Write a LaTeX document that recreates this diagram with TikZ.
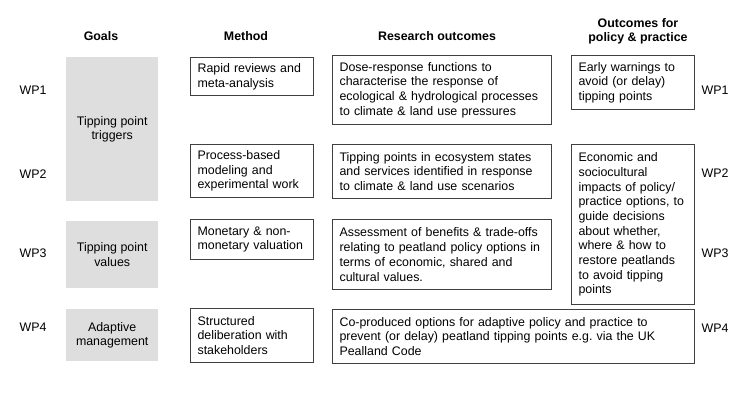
\documentclass[tikz,border=0pt]{standalone}
\usepackage{fontspec}
\setmainfont{Liberation Sans}
\usetikzlibrary{positioning}

\begin{document}
\begin{tikzpicture}[
    x=1pt, y=-1pt,
    font=\fontsize{12.4}{14.7}\selectfont,
    header/.style={font=\fontsize{12.4}{14}\selectfont\bfseries, align=center},
    goal/.style={fill=black!13, align=center, anchor=north west,
                 inner sep=0pt, minimum width=92pt},
    cell/.style={draw=black!75, line width=1.1pt, align=left, anchor=north west,
                 inner xsep=7pt, inner ysep=2pt},
    wplabel/.style={inner sep=1pt}
  ]
    \useasboundingbox (0,0) rectangle (752,415);
    % column headers
    \node[header] (hgoals) at (101,36) {Goals};
    \node[header] (hmethod) at (246,36) {Method};
    \node[header] (hresearch) at (437,36) {Research outcomes};
    \node[header] (hpolicy) at (638,31) {Outcomes for\\policy \& practice};
    % goals
    \node[goal, minimum height=144pt] (goal1) at (66,57) {Tipping point\\triggers};
    \node[goal, minimum height=67pt] (goal2) at (66,221) {Tipping point\\values};
    \node[goal, minimum height=52pt] (goal3) at (66,309) {Adaptive\\management};
    % methods
    \node[cell, text width=109pt, minimum height=38pt] (meth1) at (190,57)
      {Rapid reviews and\\meta-analysis};
    \node[cell, text width=109pt, minimum height=53pt] (meth2) at (190,144)
      {Process-based\\modeling and\\experimental work};
    \node[cell, text width=109pt, minimum height=40pt] (meth3) at (190,219)
      {Monetary \& non-\\monetary valuation};
    \node[cell, text width=109pt, minimum height=54pt] (meth4) at (190,308)
      {Structured\\deliberation with\\stakeholders};
    % research outcomes
    \node[cell, text width=205pt, minimum height=69pt] (res1) at (332,55)
      {Dose-response functions to\\characterise the response of\\
       ecological \& hydrological processes\\to climate \& land use pressures};
    \node[cell, text width=205pt, minimum height=54pt] (res2) at (332,144)
      {Tipping points in ecosystem states\\and services identified in response\\
       to climate \& land use scenarios};
    \node[cell, text width=205pt, minimum height=70pt] (res3) at (332,219)
      {Assessment of benefits \& trade-offs\\relating to peatland policy options in\\
       terms of economic, shared and\\cultural values.};
    \node[cell, text width=348pt, minimum height=54pt] (res4) at (332,309)
      {Co-produced options for adaptive policy and practice to\\
       prevent (or delay) peatland tipping points e.g.\ via the UK\\Pealland Code};
    % outcomes for policy
    \node[cell, text width=109pt, minimum height=54pt] (pol1) at (571,55)
      {Early warnings to\\avoid (or delay)\\tipping points};
    \node[cell, text width=109pt, minimum height=160pt] (pol2) at (571,144)
      {Economic and\\sociocultural\\impacts of policy/\\practice options, to\\
       guide decisions\\about whether,\\where \& how to\\restore peatlands\\
       to avoid tipping\\points};
    % work packages
    \foreach \i/\yl/\yr in {1/90/90, 2/174/173, 3/253/253, 4/327/328} {
      \node[wplabel] (wpl\i) at (33,\yl) {WP\i};
      \node[wplabel] (wpr\i) at (715,\yr) {WP\i};
    }
\end{tikzpicture}
\end{document}
